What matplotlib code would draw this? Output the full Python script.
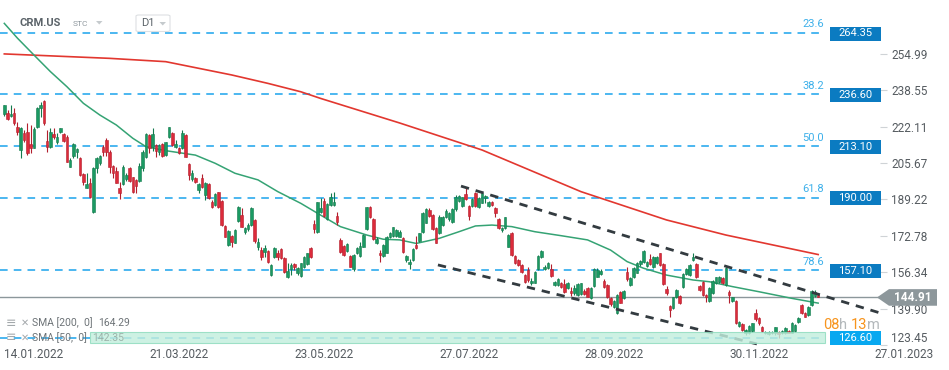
import matplotlib
matplotlib.use("Agg")
import matplotlib.pyplot as plt
from matplotlib.patches import Rectangle, Polygon, FancyBboxPatch
import numpy as np

plt.rcParams['font.family'] = ['Roboto', 'DejaVu Sans']

# ---- data (daily candles, CRM.US) ----
opens = [227.6, 228.1, 226.9, 228.0, 221.7, 211.5, 219.0, 219.5, 214.0, 212.6,
         222.0, 230.6, 233.6, 215.6, 213.0, 218.6, 215.3, 219.8, 218.6, 217.5,
         204.0, 209.0, 210.5, 208.0, 200.6, 194.5, 196.4, 183.3, 203.5, 205.5,
         213.0, 216.0, 210.5, 204.3, 202.2, 194.2, 196.1, 198.2, 203.2, 199.2,
         197.9, 197.6, 203.2, 208.2, 218.3, 213.0, 213.8, 210.8, 214.2, 209.2,
         217.2, 219.3, 213.0, 212.2, 212.2, 218.3, 205.2, 198.2, 198.7, 193.4,
         198.7, 191.2, 196.1, 188.2, 186.7, 192.4, 188.6, 177.2, 168.6, 172.7,
         169.7, 179.6, 182.1, 174.6, 175.7, 177.6, 179.9, 167.9, 166.4, 165.6,
         166.0, 155.0, 163.0, 165.1, 166.6, 162.6, 154.0, 157.6, 160.0, 156.1,
         154.6, 158.5, 160.0, 167.1, 178.1, 174.6, 183.7, 188.6, 180.2, 186.7,
         186.7, 181.7, 170.9, 168.2, 166.0, 163.6, 157.6, 164.8, 163.6, 167.9,
         175.7, 185.6, 180.2, 169.7, 165.1, 163.6, 165.1, 172.1, 172.7, 172.7,
         172.4, 171.6, 161.8, 160.0, 161.8, 168.6, 170.6, 174.6, 178.7, 184.4,
         182.1, 176.1, 174.2, 177.6, 181.1, 180.2, 179.1, 184.7, 188.6, 186.2,
         191.6, 186.2, 186.2, 192.2, 185.6, 187.7, 189.7, 186.2, 188.2, 185.2,
         180.2, 175.4, 176.1, 167.9, 174.2, 163.6, 161.8, 159.6, 155.0, 157.5,
         151.3, 151.6, 157.6, 163.0, 157.6, 158.1, 157.6, 150.5, 150.5, 151.3,
         151.0, 149.0, 148.0, 147.1, 146.0, 146.5, 148.0, 149.0, 144.5, 150.1,
         154.3, 155.5, 152.5, 150.5, 144.5, 140.7, 137.7, 147.5, 144.5, 156.5,
         150.5, 154.0, 156.1, 160.0, 161.1, 159.1, 162.1, 158.5, 160.3, 164.8,
         160.0, 148.6, 141.0, 140.0, 145.0, 145.6, 149.5, 155.5, 155.0, 161.8,
         160.0, 150.1, 152.0, 146.0, 143.5, 146.8, 151.3, 151.8, 153.5, 150.5,
         147.5, 143.5, 143.5, 132.0, 132.9, 129.0, 129.0, 129.9, 137.7, 135.5,
         131.4, 128.7, 128.4, 128.7, 128.7, 129.4, 128.7, 128.7, 129.9, 129.0,
         129.9, 134.0, 141.5, 138.0, 137.0, 141.5, 145.6, 145.8]
highs = [231.8, 229.6, 231.8, 230.3, 224.0, 222.0, 220.5, 223.5, 222.8, 222.0,
         231.0, 233.3, 234.0, 220.5, 221.3, 221.3, 219.0, 221.5, 219.0, 218.3,
         207.7, 214.5, 212.3, 208.5, 201.0, 201.0, 198.7, 204.0, 208.5, 209.2,
         213.8, 216.8, 211.5, 204.7, 204.0, 197.2, 204.7, 201.0, 203.7, 199.5,
         198.2, 205.5, 211.5, 219.0, 218.7, 221.3, 214.2, 214.2, 214.5, 215.3,
         222.0, 219.8, 216.0, 212.7, 220.5, 218.7, 205.5, 202.5, 199.5, 196.7,
         200.7, 197.2, 196.4, 188.9, 192.0, 192.7, 189.0, 177.6, 175.4, 173.1,
         175.7, 186.2, 185.2, 176.6, 178.4, 185.6, 180.2, 171.6, 167.9, 168.6,
         166.4, 160.0, 167.9, 166.4, 167.1, 163.3, 160.3, 160.3, 160.6, 158.5,
         160.6, 163.6, 165.1, 167.5, 179.9, 188.2, 189.7, 189.7, 187.4, 191.9,
         192.7, 183.7, 171.6, 168.6, 169.4, 164.1, 164.5, 167.9, 170.1, 173.6,
         185.9, 186.2, 180.6, 172.1, 166.4, 169.0, 172.7, 174.6, 176.9, 175.7,
         175.4, 172.1, 164.1, 162.1, 167.1, 172.7, 174.2, 183.7, 185.2, 185.2,
         182.6, 176.6, 182.1, 181.7, 184.7, 183.7, 185.2, 191.2, 191.2, 190.4,
         194.2, 186.7, 189.7, 192.7, 190.4, 192.2, 191.2, 188.6, 188.6, 185.6,
         180.6, 176.6, 181.4, 173.6, 174.6, 164.1, 162.1, 160.0, 155.5, 158.5,
         153.5, 157.0, 164.1, 166.3, 159.6, 161.1, 160.0, 152.5, 153.5, 152.0,
         153.1, 152.0, 149.8, 150.5, 151.3, 151.6, 148.6, 149.8, 149.5, 158.1,
         158.1, 157.6, 153.1, 151.0, 145.0, 143.8, 146.5, 148.0, 148.3, 158.5,
         154.0, 158.5, 161.1, 161.8, 166.3, 161.5, 164.5, 163.6, 163.6, 165.1,
         160.3, 150.1, 141.5, 145.3, 148.6, 146.0, 155.8, 158.1, 160.0, 164.8,
         160.3, 150.5, 152.5, 146.5, 149.5, 152.8, 154.3, 154.8, 154.0, 158.5,
         148.3, 145.3, 143.8, 134.4, 133.5, 130.5, 132.5, 133.5, 139.5, 135.9,
         132.0, 129.9, 129.9, 129.7, 131.7, 129.9, 130.2, 131.4, 130.2, 134.0,
         133.0, 135.9, 141.9, 138.5, 141.0, 148.3, 148.3, 146.5]
lows = [227.0, 225.0, 226.5, 223.0, 218.3, 207.7, 215.3, 209.2, 210.0, 212.2,
        221.3, 226.5, 222.8, 210.8, 212.2, 216.5, 214.0, 219.0, 215.3, 206.0,
        204.0, 207.7, 208.0, 199.9, 195.7, 194.2, 190.0, 183.0, 201.0, 204.7,
        209.0, 209.0, 201.0, 198.7, 196.4, 189.2, 195.7, 197.6, 197.2, 192.2,
        192.2, 197.2, 202.2, 207.7, 210.3, 211.2, 208.2, 209.2, 208.5, 208.8,
        216.8, 213.3, 212.3, 209.7, 211.8, 208.2, 197.9, 197.6, 196.4, 192.2,
        194.2, 188.9, 189.2, 185.2, 186.2, 185.2, 177.2, 172.1, 168.2, 167.5,
        169.3, 179.1, 176.6, 173.6, 175.1, 177.2, 169.7, 166.4, 161.8, 163.3,
        160.6, 154.6, 162.6, 161.8, 162.1, 156.1, 153.6, 155.1, 157.3, 155.1,
        154.3, 158.1, 159.6, 162.6, 174.2, 174.2, 182.9, 181.1, 179.9, 186.2,
        186.2, 177.6, 165.1, 163.6, 165.6, 158.5, 157.0, 164.5, 163.3, 167.5,
        175.4, 180.6, 170.9, 169.0, 161.1, 163.3, 164.8, 171.6, 172.4, 172.1,
        172.1, 165.1, 161.1, 157.6, 161.5, 166.6, 170.1, 174.2, 178.4, 181.1,
        175.4, 169.4, 173.6, 177.2, 180.6, 179.6, 178.7, 184.1, 188.2, 185.6,
        188.9, 179.9, 185.6, 185.9, 185.2, 187.4, 187.4, 185.9, 186.2, 181.4,
        175.7, 174.6, 175.7, 167.5, 163.6, 160.0, 159.1, 156.1, 151.6, 152.0,
        150.5, 151.3, 157.3, 162.6, 157.3, 157.6, 154.0, 150.1, 150.1, 149.0,
        147.0, 148.6, 145.6, 146.0, 145.6, 146.0, 146.0, 145.0, 144.0, 149.8,
        154.0, 155.0, 149.0, 144.5, 141.0, 140.0, 137.4, 142.2, 144.0, 152.5,
        150.1, 153.5, 155.8, 159.1, 160.6, 158.5, 159.6, 158.1, 160.0, 159.1,
        150.5, 146.0, 136.2, 139.5, 144.5, 141.9, 149.0, 155.0, 154.6, 161.5,
        153.5, 148.0, 145.6, 143.0, 143.0, 146.5, 151.0, 151.5, 151.0, 150.1,
        142.2, 143.0, 132.9, 131.4, 129.9, 127.9, 128.4, 129.4, 134.4, 132.5,
        129.4, 128.4, 127.9, 128.2, 127.9, 126.4, 128.4, 128.4, 128.7, 128.7,
        129.4, 133.2, 137.4, 135.9, 136.5, 141.0, 145.3, 144.9]
closes = [231.8, 225.4, 227.8, 223.5, 219.5, 221.3, 216.0, 210.0, 212.6, 221.0,
          230.6, 231.8, 223.5, 213.0, 219.5, 217.5, 217.5, 221.3, 215.7, 206.2,
          207.0, 214.0, 212.0, 200.2, 196.9, 196.0, 190.4, 203.2, 208.0, 208.8,
          210.5, 210.5, 204.0, 201.0, 196.7, 192.2, 203.7, 200.2, 197.6, 192.7,
          195.4, 204.3, 210.4, 218.7, 212.3, 218.7, 211.2, 213.8, 208.8, 215.0,
          221.7, 213.8, 214.2, 210.3, 219.0, 208.5, 200.2, 201.0, 197.2, 196.1,
          194.6, 196.7, 189.7, 185.6, 191.6, 185.6, 177.6, 172.4, 175.1, 170.1,
          175.4, 185.6, 176.9, 176.1, 177.6, 185.2, 170.6, 170.1, 163.0, 167.1,
          161.1, 159.6, 167.1, 163.3, 162.6, 156.6, 157.0, 159.6, 158.5, 158.1,
          160.3, 163.3, 164.8, 163.0, 175.7, 188.0, 185.2, 181.7, 187.1, 190.1,
          188.2, 179.1, 165.6, 164.1, 169.0, 158.8, 164.1, 167.1, 168.2, 173.1,
          185.6, 181.1, 171.2, 171.2, 164.1, 168.6, 172.1, 173.9, 176.6, 175.4,
          174.6, 165.6, 163.6, 161.1, 166.6, 167.1, 173.9, 183.2, 184.7, 181.7,
          175.7, 169.7, 181.4, 181.1, 184.1, 183.2, 184.7, 190.4, 190.7, 190.1,
          189.2, 181.7, 189.2, 186.2, 189.7, 191.9, 190.7, 188.2, 186.7, 183.2,
          176.1, 176.1, 181.1, 173.1, 164.1, 160.3, 159.6, 156.6, 152.0, 153.0,
          152.5, 156.5, 163.6, 166.0, 158.8, 160.3, 154.6, 152.0, 153.1, 149.8,
          147.5, 151.6, 146.8, 149.0, 151.0, 151.3, 146.5, 145.3, 149.0, 157.6,
          157.3, 157.0, 149.5, 145.0, 142.0, 143.5, 146.0, 142.5, 148.0, 153.1,
          153.5, 158.1, 160.6, 161.5, 166.0, 161.1, 160.0, 163.3, 163.3, 159.6,
          151.0, 146.8, 139.2, 145.0, 148.3, 142.2, 155.5, 157.6, 159.6, 163.0,
          154.0, 148.3, 146.0, 145.0, 149.0, 152.5, 154.0, 154.3, 151.3, 158.1,
          146.0, 145.0, 133.2, 134.0, 130.2, 130.2, 132.0, 133.2, 135.0, 133.5,
          129.9, 129.4, 129.4, 129.2, 131.4, 128.4, 129.9, 130.9, 129.0, 133.5,
          132.5, 135.5, 137.7, 136.2, 140.4, 148.0, 147.5, 144.91]

# moving averages as drawn on the chart (bar index, price)
sma200_bar = [0, 32, 49, 59, 69, 80, 90, 96, 120, 145, 175, 201, 219, 247]
sma200_val = [254.9, 252.9, 251.4, 248.4, 245.4, 241.6, 237.8, 234.8, 223.7,
              211.5, 192.7, 179.9, 173.1, 164.29]
sma50_bar = [0, 4, 9, 14, 19, 24, 29, 34, 39, 43, 49, 58, 64, 70, 77, 83, 90,
             96, 102, 110, 115, 120, 125, 132, 138, 143, 148, 154, 161, 169,
             177, 184, 189, 194, 201, 209, 214, 221, 229, 239, 247]
sma50_val = [268.7, 262.0, 254.4, 246.9, 240.1, 232.6, 227.3, 222.8, 216.8,
             213.0, 211.2, 209.2, 205.5, 201.0, 198.0, 192.7, 187.4, 182.1,
             176.9, 173.1, 171.2, 170.9, 169.3, 171.6, 174.6, 177.2, 177.6,
             176.9, 174.6, 172.8, 170.9, 166.3, 161.1, 158.1, 155.0, 152.8,
             152.0, 149.8, 147.5, 144.5, 142.35]

# fibonacci retracement levels
fib_ratios = ['23.6', '38.2', '50.0', '61.8', '78.6', '']
fib_levels = [264.35, 236.60, 213.10, 190.00, 157.10, 126.60]

# channel trend lines (bar, price)
channel_upper = [(138.6, 195.2), (265.8, 137.9)]
channel_lower = [(131.6, 159.6), (228.4, 123.9)]

zone_low, zone_high = 124.4, 129.15
last_price = closes[-1]

date_bars = [0, 44, 88, 132, 176, 220, 264]
date_labels = ['14.01.2022', '21.03.2022', '23.05.2022', '27.07.2022',
               '28.09.2022', '30.11.2022', '27.01.2023']
price_ticks = [254.99, 238.55, 222.11, 205.67, 189.22, 172.78, 156.34, 139.90, 123.45]

# ---- layout ----
W, H = 949, 370
fig = plt.figure(figsize=(W / 100, H / 100), dpi=100)
AX_R, AX_B = 880, 346
ax = fig.add_axes([0, 1 - AX_B / H, AX_R / W, AX_B / H])

X0, DX = 4.3, 3.295          # pixel of first bar, pixels per bar
Y_REF, P_REF, PPU = 33, 264.35, 2.214   # pixel calibration of price scale


def ix(px):
    return (px - X0) / DX


def py(px):
    return P_REF - (px - Y_REF) / PPU


def fx(px):
    return px / W


def fy(px):
    return 1 - px / H


ax.set_xlim(ix(0), ix(AX_R))
ax.set_ylim(py(AX_B), py(0))
for s in ax.spines.values():
    s.set_visible(False)

GREEN, GREEN_E = '#1b9a63', '#137a4d'
RED, RED_E = '#dc2b3b', '#b31f2d'

# fib lines
for r, v in zip(fib_ratios, fib_levels):
    ax.plot([ix(0), ix(825)], [v, v], color='#1aa3ec', lw=1.1, dashes=(5, 4), zorder=1)
    if r:
        ax.text(ix(824), v + 8.5 / PPU, r, color='#3db0ea', fontsize=8,
                ha='right', va='center', zorder=8)
    box_col = '#08a8f0' if v == fib_levels[-1] else '#0b7bc1'
    ax.add_patch(Rectangle((ix(830), v - 7.5 / PPU), ix(881) - ix(830), 14 / PPU,
                           facecolor=box_col, edgecolor='none', clip_on=False, zorder=9))
    ax.text(ix(855.5), v - 0.5 / PPU, f'{v:.2f}', color='white', fontsize=8,
            ha='center', va='center', clip_on=False, zorder=10)

# current price line
ax.axhline(last_price, color='#8c979b', lw=1, zorder=2)

# moving averages
ax.plot(sma200_bar, sma200_val, color='#e2372f', lw=1.2, zorder=3)
ax.plot(sma50_bar, sma50_val, color='#35a374', lw=1.1, zorder=3)

# candles
o = np.array(opens)
h = np.array(highs)
l = np.array(lows)
c = np.array(closes)
bars = np.arange(len(c))
up = c >= o
fc = np.where(up, GREEN, RED)
ec = np.where(up, GREEN_E, RED_E)
ax.vlines(bars, l, h, colors=ec, lw=0.8, zorder=4)
ax.bar(bars, np.maximum(np.abs(c - o), 0.4), bottom=np.minimum(o, c), width=0.78,
       color=fc, edgecolor=ec, linewidth=0.4, zorder=5)

# channel
for line in (channel_upper, channel_lower):
    xs, ys = zip(*line)
    ax.plot(xs, ys, color='#333b40', lw=2, dashes=(3, 2.5), zorder=6,
            solid_capstyle='butt')

# support zone
ax.add_patch(Rectangle((ix(90), zone_low), ix(825) - ix(90), zone_high - zone_low,
                       facecolor='#c3eedd', edgecolor='#8ddbbd', lw=0.8,
                       alpha=0.82, zorder=7))

# price tag
th = 8.3 / PPU
tag = Polygon([(ix(877), last_price), (ix(889), last_price + th), (ix(937), last_price + th),
               (ix(937), last_price - th), (ix(889), last_price - th)],
              closed=True, facecolor='#8d979b', edgecolor='none', clip_on=False, zorder=11)
ax.add_patch(tag)
ax.text(ix(913), last_price, f'{last_price:.2f}', color='white', fontsize=8.5,
        fontweight='bold', ha='center', va='center', clip_on=False, zorder=12)

# axes ticks
ax.yaxis.tick_right()
ax.set_yticks(price_ticks)
ax.set_yticklabels([f'{v:.2f}' for v in price_ticks])
ax.tick_params(axis='y', length=5, width=0.8, color='#cfd3d6', pad=3,
               labelsize=8.5, labelcolor='#555b60')
ax.get_yticklabels()[-1].set_va('bottom')

ax.set_xticks(date_bars)
ax.set_xticklabels(date_labels)
ax.tick_params(axis='x', length=0, pad=1.5, labelsize=8.5, labelcolor='#555b60')
for lab in ax.get_xticklabels():
    lab.set_ha('left')

# header
fig.text(fx(20), fy(23.5), 'CRM.US', fontsize=8, fontweight='bold', color='#5b6369', va='center')
fig.text(fx(73), fy(24.5), 'STC', fontsize=6, color='#8f989e', va='center')
fig.patches.append(Polygon([(fx(96), fy(21)), (fx(102.5), fy(21)), (fx(99.25), fy(24.5))],
                           closed=True, facecolor='#c5cacd', edgecolor='none',
                           transform=fig.transFigure))
fig.patches.append(FancyBboxPatch((fx(136), fy(31.5)), 34 / W, 16.5 / H,
                                  boxstyle='round,pad=0,rounding_size=0.003',
                                  facecolor='white', edgecolor='#dde0e3', lw=0.8,
                                  transform=fig.transFigure))
fig.text(fx(141), fy(23.5), 'D1', fontsize=8, color='#5b6369', va='center')
fig.patches.append(Polygon([(fx(159.5), fy(22)), (fx(166), fy(22)), (fx(162.75), fy(25.5))],
                           closed=True, facecolor='#c5cacd', edgecolor='none',
                           transform=fig.transFigure))

# indicator legend
for yy, name, val in [(323, 'SMA [200,  0]  ', '164.29'), (338, 'SMA [50,  0]  ', '142.35')]:
    fig.text(fx(6), fy(yy), '≡', fontsize=9, color='#a3a8ab', va='center',
             family=['DejaVu Sans'])
    fig.text(fx(20.5), fy(yy), '✕', fontsize=7, color='#a3a8ab', va='center',
             family=['DejaVu Sans'])
    t = fig.text(fx(32), fy(yy), name, fontsize=7.5, color='#6d7377', va='center')
    fig.canvas.draw()
    bb = t.get_window_extent(fig.canvas.get_renderer())
    vcol = '#6d7377' if val == '164.29' else '#9bb3aa'
    fig.text(bb.x1 / W, fy(yy), val, fontsize=7.5, color=vcol, va='center', zorder=8)

# countdown
renderer = fig.canvas.get_renderer()
xpos = 823
for part, col, gap in [('08', '#f7941d', 0), ('h', '#b3b8bb', 3.5), ('13', '#f7941d', 0), ('m', '#b3b8bb', 0)]:
    t = fig.text(fx(xpos), fy(325), part, fontsize=10.5, color=col, va='center')
    bb = t.get_window_extent(renderer)
    xpos += bb.width + gap

fig.savefig('out.png', dpi=100, facecolor='white')
